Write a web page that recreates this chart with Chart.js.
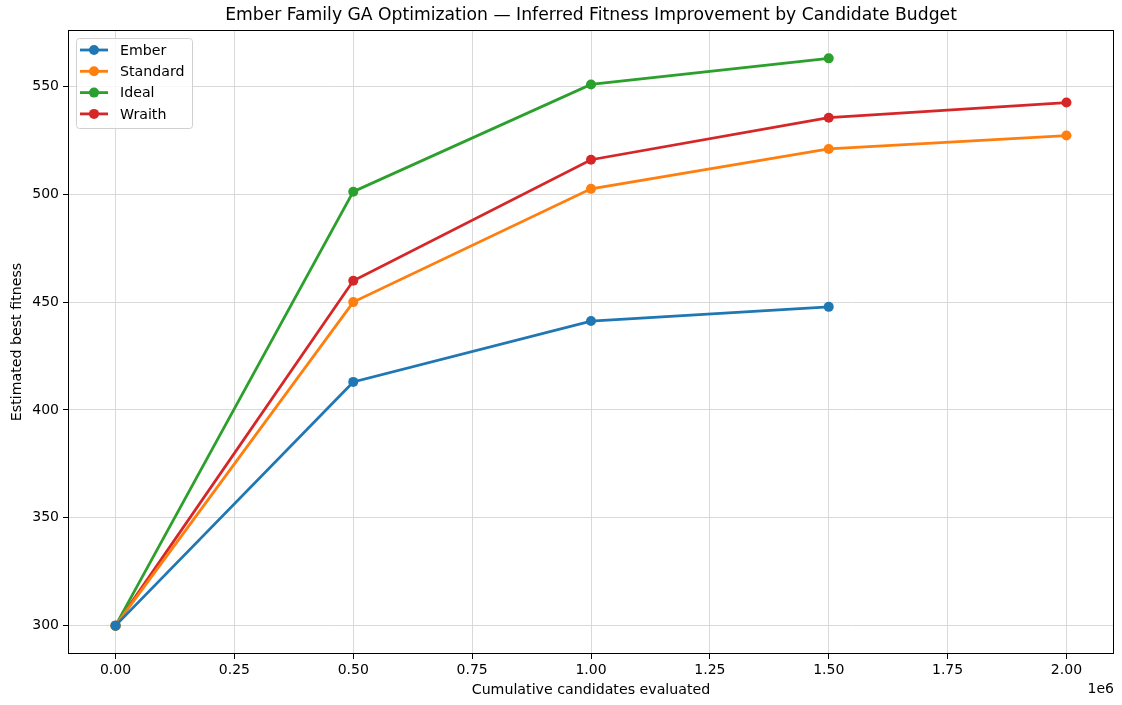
<!DOCTYPE html>
<html>
<head>
<meta charset="utf-8">
<script src="https://cdn.jsdelivr.net/npm/chart.js@4"></script>
<style>
  html, body { margin: 0; padding: 0; background: #fff; }
  #wrap { width: 1122px; height: 705px; }
</style>
</head>
<body>
<div id="wrap"><canvas id="chart"></canvas></div>
<script>
// ---- data ----
const budgets = [0, 500000, 1000000, 1500000, 2000000];
const ember = [300, 413, 441.2, 447.8];
const standard = [300, 450, 502.5, 521, 527.2];
const ideal = [300, 501.2, 550.9, 563];
const wraith = [300, 459.9, 516, 535.5, 542.5];

const xTicks = [0, 250000, 500000, 750000, 1000000, 1250000, 1500000, 1750000, 2000000];
const yTicks = [300, 350, 400, 450, 500, 550];

const FONT = 'DejaVu Sans';

function pts(vals) {
  return vals.map((v, i) => ({ x: budgets[i], y: v }));
}

const series = [
  { label: 'Ember', data: ember, color: '#1f77b4' },
  { label: 'Standard', data: standard, color: '#ff7f0e' },
  { label: 'Ideal', data: ideal, color: '#2ca02c' },
  { label: 'Wraith', data: wraith, color: '#d62728' }
];

// title, frame, legend, offset text
const extras = {
  id: 'extras',
  afterDraw(chart) {
    const ctx = chart.ctx;
    const a = chart.chartArea;
    ctx.save();

    // frame
    ctx.strokeStyle = '#000';
    ctx.lineWidth = 1;
    ctx.strokeRect(a.left + 0.5, a.top + 0.5, a.right - a.left - 1, a.bottom - a.top - 1);

    // title
    ctx.fillStyle = '#000';
    ctx.font = '17.2px ' + FONT;
    ctx.textAlign = 'center';
    ctx.textBaseline = 'middle';
    ctx.fillText('Ember Family GA Optimization \u2014 Inferred Fitness Improvement by Candidate Budget',
      (a.left + a.right) / 2, 16);

    // offset text
    ctx.font = '14px ' + FONT;
    ctx.textAlign = 'right';
    ctx.fillText('1e6', a.right, 689);

    // legend
    const bx = 76, by = 38, bw = 116, bh = 90;
    ctx.fillStyle = 'rgba(255,255,255,0.8)';
    ctx.strokeStyle = '#d0d0d0';
    ctx.lineWidth = 1;
    ctx.beginPath();
    ctx.roundRect(bx + 0.5, by + 0.5, bw, bh, 3);
    ctx.fill();
    ctx.stroke();
    ctx.textAlign = 'left';
    ctx.font = '14.2px ' + FONT;
    series.forEach((s, i) => {
      const y = by + 12 + i * 21.3;
      ctx.strokeStyle = s.color;
      ctx.lineWidth = 2.8;
      ctx.beginPath();
      ctx.moveTo(bx + 4, y);
      ctx.lineTo(bx + 32, y);
      ctx.stroke();
      ctx.fillStyle = s.color;
      ctx.beginPath();
      ctx.arc(bx + 18, y, 5, 0, Math.PI * 2);
      ctx.fill();
      ctx.fillStyle = '#000';
      ctx.fillText(s.label, bx + 44, y + 1);
    });

    ctx.restore();
  }
};

new Chart(document.getElementById('chart'), {
  type: 'line',
  data: {
    datasets: series.map(s => ({
      label: s.label,
      data: pts(s.data),
      borderColor: s.color,
      backgroundColor: s.color,
      borderWidth: 2.8,
      pointRadius: 5,
      pointHoverRadius: 5,
      pointBorderWidth: 0,
      fill: false,
      tension: 0
    }))
  },
  options: {
    responsive: true,
    maintainAspectRatio: false,
    animation: false,
    events: [],
    layout: { padding: { top: 30, left: 0, right: 8, bottom: 0 } },
    plugins: {
      legend: { display: false },
      title: { display: false },
      tooltip: { enabled: false }
    },
    scales: {
      x: {
        type: 'linear',
        min: -100000,
        max: 2100000,
        afterBuildTicks(scale) { scale.ticks = xTicks.map(v => ({ value: v })); },
        afterFit(scale) { scale.height = 51; },
        ticks: {
          color: '#000',
          font: { family: FONT, size: 14 },
          padding: 3,
          maxRotation: 0,
          callback: v => (v / 1e6).toFixed(2)
        },
        grid: { color: '#d9d9d9', tickColor: '#000', tickLength: 5, drawTicks: true },
        border: { display: false },
        title: {
          display: true,
          text: 'Cumulative candidates evaluated',
          color: '#000',
          font: { family: FONT, size: 14.2 },
          padding: { top: 0, bottom: 6 }
        }
      },
      y: {
        type: 'linear',
        min: 286.85,
        max: 576.15,
        afterBuildTicks(scale) { scale.ticks = yTicks.map(v => ({ value: v })); },
        afterFit(scale) { scale.width = 68; },
        ticks: {
          color: '#000',
          font: { family: FONT, size: 14 },
          padding: 4,
          callback: v => String(v)
        },
        grid: { color: '#d9d9d9', tickColor: '#000', tickLength: 5, drawTicks: true },
        border: { display: false },
        title: {
          display: true,
          text: 'Estimated best fitness',
          color: '#000',
          font: { family: FONT, size: 14.2 },
          padding: { top: 9, bottom: 0 }
        }
      }
    }
  },
  plugins: [extras]
});
</script>
</body>
</html>
